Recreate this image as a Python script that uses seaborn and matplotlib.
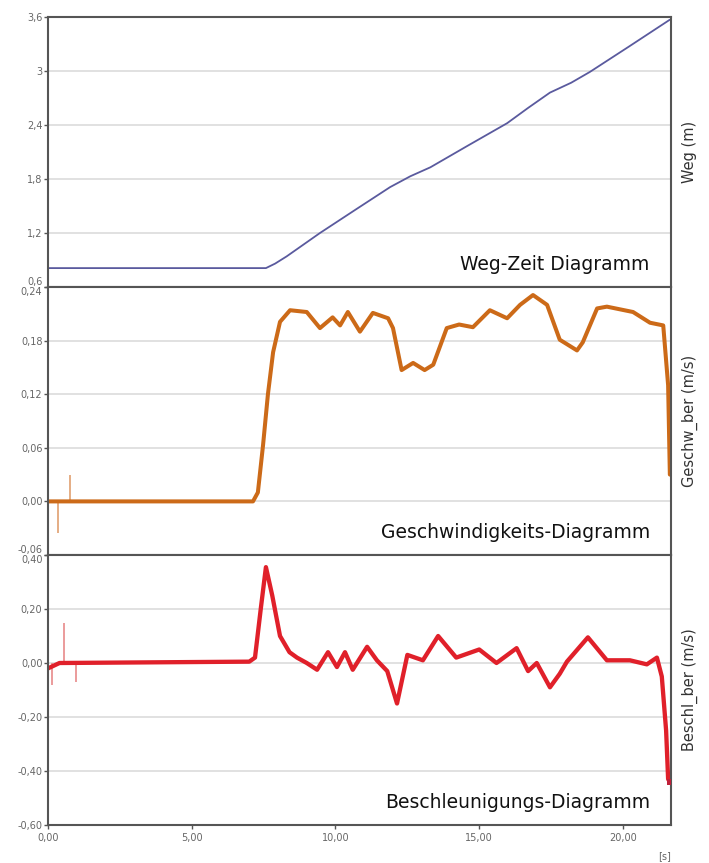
# Weg / Geschwindigkeit / Beschleunigung ueber der Zeit, drei gestapelte Diagramme
import pandas as pd
import seaborn as sns
from matplotlib import pyplot as plt

# Weg-Zeit
weg_t = [0, 7.58, 7.9, 8.3, 9.46, 10.7, 11.9, 12.6, 13.3, 14.6, 15.97, 16.7, 17.46, 18.2, 18.85, 20.2, 21.63]
weg_m = [0.81, 0.81, 0.86, 0.94, 1.2, 1.46, 1.71, 1.83, 1.93, 2.17, 2.42, 2.59, 2.76, 2.87, 2.99, 3.27, 3.57]

# Geschwindigkeit
gesch_t = [0, 7.13, 7.3, 7.48, 7.65, 7.83, 8.07, 8.42, 9.0, 9.46, 9.9, 10.16, 10.43, 10.85, 11.3, 11.83,
           12.0, 12.3, 12.7, 13.1, 13.4, 13.87, 14.3, 14.78, 15.37, 15.97, 16.42, 16.87, 17.36, 17.8,
           18.4, 18.6, 19.1, 19.44, 20.35, 20.94, 21.4, 21.57, 21.63]
gesch_v = [0, 0, 0.01, 0.063, 0.12, 0.167, 0.201, 0.214, 0.212, 0.194, 0.206, 0.197, 0.212, 0.19, 0.211, 0.205,
           0.194, 0.147, 0.155, 0.147, 0.153, 0.194, 0.198, 0.195, 0.214, 0.205, 0.22, 0.231, 0.22, 0.181,
           0.169, 0.178, 0.216, 0.218, 0.212, 0.2, 0.197, 0.13, 0.03]
gesch_spike_t = [0.35, 0.77]
gesch_spike_lo = [-0.035, 0.0]
gesch_spike_hi = [0.0, 0.03]

# Beschleunigung
besch_t = [0, 0.4, 7.0, 7.2, 7.4, 7.58, 7.8, 8.07, 8.4, 8.66, 9.0, 9.36, 9.74, 10.05, 10.33, 10.6, 11.1,
           11.44, 11.8, 12.14, 12.5, 13.04, 13.57, 14.2, 15.0, 15.6, 16.3, 16.7, 17.0, 17.46, 17.8, 18.05,
           18.78, 19.44, 20.24, 20.83, 21.18, 21.35, 21.5, 21.57, 21.63]
besch_v = [-0.02, 0.0, 0.005, 0.02, 0.2, 0.355, 0.25, 0.1, 0.04, 0.02, 0.0, -0.025, 0.04, -0.015, 0.04, -0.025, 0.06,
           0.01, -0.03, -0.15, 0.03, 0.01, 0.1, 0.02, 0.05, 0.0, 0.055, -0.03, 0.0, -0.09, -0.04, 0.005,
           0.095, 0.01, 0.01, -0.005, 0.02, -0.05, -0.25, -0.43, -0.44]
besch_spike_t = [0.13, 0.56, 0.97]
besch_spike_lo = [-0.08, 0.0, -0.07]
besch_spike_hi = [0.0, 0.15, 0.0]

x_ticks = [0, 5, 10, 15, 20]
x_labels = ['0,00', '5,00', '10,00', '15,00', '20,00']
weg_ticks = [0.6, 1.2, 1.8, 2.4, 3.0, 3.6]
weg_labels = ['0,6', '1,2', '1,8', '2,4', '3', '3,6']
gesch_ticks = [-0.06, 0.0, 0.06, 0.12, 0.18, 0.24]
gesch_labels = ['-0,06', '0,00', '0,06', '0,12', '0,18', '0,24']
besch_ticks = [-0.6, -0.4, -0.2, 0.0, 0.2, 0.4]
besch_labels = ['-0,60', '-0,40', '-0,20', '0,00', '0,20', '0,40']

sns.set_style('white')
plt.rcParams['font.family'] = ['DejaVu Sans']

fig = plt.figure(figsize=(7.09, 8.63), dpi=100)
left, width = 48 / 709, 623 / 709
tops = [17, 287, 555]
bots = [287, 555, 825]
axes = [fig.add_axes([left, 1 - b / 863, width, (b - t) / 863]) for t, b in zip(tops, bots)]

df_weg = pd.DataFrame({'t': weg_t, 'v': weg_m})
df_gesch = pd.DataFrame({'t': gesch_t, 'v': gesch_v})
df_besch = pd.DataFrame({'t': besch_t, 'v': besch_v})

sns.lineplot(data=df_weg, x='t', y='v', ax=axes[0], color='#5a5a9e', linewidth=1.3)
axes[1].vlines(gesch_spike_t, gesch_spike_lo, gesch_spike_hi, color='#e0a070', linewidth=1.2)
sns.lineplot(data=df_gesch, x='t', y='v', ax=axes[1], color='#cc6a18', linewidth=2.9)
axes[2].vlines(besch_spike_t, besch_spike_lo, besch_spike_hi, color='#e88a8a', linewidth=1.2)
sns.lineplot(data=df_besch, x='t', y='v', ax=axes[2], color='#e0202a', linewidth=3.1)
# Endpunkt-Markierung
sns.scatterplot(x=besch_t[-1:], y=besch_v[-1:], ax=axes[2], color='#c0203a', marker='s', s=18,
                edgecolor='none', zorder=5)

cfg = [
    (axes[0], (0.6, 3.6), weg_ticks, weg_labels, 'Weg (m)', 'Weg-Zeit Diagramm'),
    (axes[1], (-0.06, 0.24), gesch_ticks, gesch_labels, 'Geschw_ber (m/s)', 'Geschwindigkeits-Diagramm'),
    (axes[2], (-0.6, 0.4), besch_ticks, besch_labels, 'Beschl_ber (m/s)', 'Beschleunigungs-Diagramm'),
]
for i, (ax, lim, ticks, labels, ylab, title) in enumerate(cfg):
    ax.set_xlim(0, 21.67)
    ax.set_ylim(*lim)
    ax.set_yticks(ticks)
    ax.set_yticklabels(labels)
    tl = ax.get_yticklabels()
    if i < 2:
        tl[0].set_va('bottom')
    if i > 0:
        tl[-1].set_va('top')
    ax.grid(axis='y', color='#dcdcdc', linewidth=1.2)
    ax.set_axisbelow(True)
    for s in ax.spines.values():
        s.set_color('#555555')
        s.set_linewidth(1.5)
    ax.tick_params(axis='y', left=True, length=3, width=1, color='#555555',
                   labelsize=7, labelcolor='#666666', pad=1)
    ax.yaxis.set_label_position('right')
    ax.set_ylabel(ylab, fontsize=10.5, color='#333333', labelpad=8)
    ax.set_xticks(x_ticks)
    if i < 2:
        ax.tick_params(axis='x', bottom=False, labelbottom=False)
        ax.set_xlabel('')
    else:
        ax.set_xticklabels(x_labels)
        ax.tick_params(axis='x', bottom=True, length=3, width=1, color='#555555',
                       labelsize=7, labelcolor='#666666', pad=3)
        ax.set_xlabel('')
    ax.text(0.966, 0.085, title, transform=ax.transAxes, ha='right', va='center',
            fontsize=13.5, color='#111111',
            bbox=dict(facecolor='white', edgecolor='none', pad=2))

fig.text(665 / 709, 1 - 856 / 863, '[s]', fontsize=7, color='#666666', ha='center', va='center')

plt.savefig('out.png', dpi=100)
plt.close()
